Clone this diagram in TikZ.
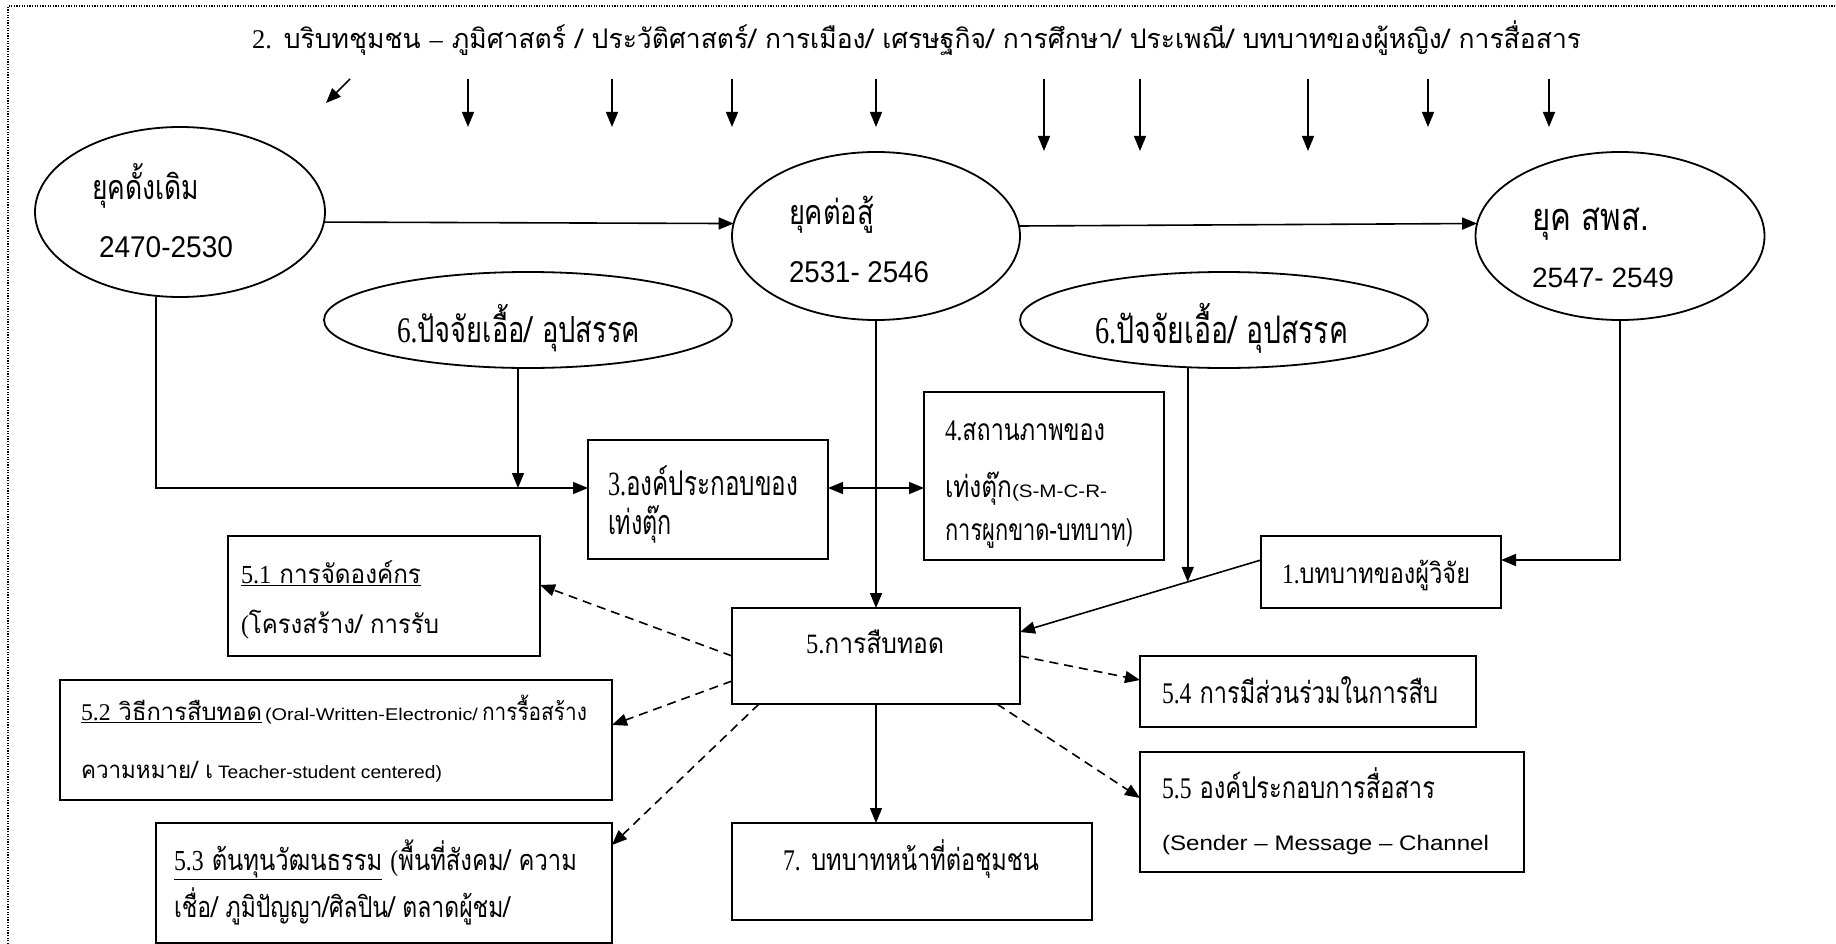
\documentclass[tikz,border=0pt]{standalone}
\usepackage{fontspec}
\usepackage{graphicx}
\setmainfont[Script=Thai]{Loma}
\newfontfamily\serf{Liberation Serif}
\newfontfamily\ari{Liberation Sans}
\usetikzlibrary{arrows.meta,shapes.geometric,calc}

\newcommand\fs[1]{\fontsize{#1pt}{#1pt}\selectfont}
\newcommand\sr[1]{{\serf #1}}
% squeeze a piece of text to a given width, keeping its height
\newcommand\sq[2]{\resizebox{#1pt}{\height}{#2}}
% one line of text, baseline-left at (x,y), squeezed to a given width
\newcommand\putline[5]{\node[txt] (#1) at (#2,#3) {\sq{#4}{#5}};}
% one line built from already squeezed pieces
\newcommand\putraw[4]{\node[txt] (#1) at (#2,#3) {#4};}

\tikzset{
  ln/.style={line width=1.6pt},
  arr/.style={ln, -{Triangle[length=15pt,width=12pt]}},
  arrtwo/.style={ln, {Triangle[length=15pt,width=12pt]}-{Triangle[length=15pt,width=12pt]}},
  darr/.style={arr, dash pattern=on 9pt off 6pt},
  box/.style={draw, rectangle, line width=1.8pt, inner sep=0pt, outer sep=0pt},
  ell/.style={draw, ellipse, line width=1.8pt, inner sep=0pt, outer sep=0pt},
  txt/.style={anchor=base west, inner sep=0pt, outer sep=0pt},
  frame/.style={line width=1.2pt, dash pattern=on 1.3pt off 1.3pt},
}

\begin{document}
\begin{tikzpicture}[x=1pt,y=-1pt]
\useasboundingbox (0,0) rectangle (1836,944);
\fill[white] (0,0) rectangle (1836,944);
\draw[frame] (8,944) -- (8,6) -- (1836,6);

% periods
\node[ell, minimum width=290pt, minimum height=170pt] (E1) at (180,212) {};
\node[ell, minimum width=288pt, minimum height=168pt] (E2) at (876,236) {};
\node[ell, minimum width=289pt, minimum height=168pt] (E3) at (1620,236) {};
% enabling factors / obstacles
\node[ell, minimum width=408pt, minimum height=96pt] (E6L) at (528,320) {};
\node[ell, minimum width=408pt, minimum height=96pt] (E6R) at (1224,320) {};

% boxes
\node[box, minimum width=240pt, minimum height=119pt] (B3) at (708,499.5) {};
\node[box, minimum width=240pt, minimum height=168pt] (B4) at (1044,476) {};
\node[box, minimum width=240pt, minimum height=72pt] (B1) at (1381,572) {};
\node[box, minimum width=288pt, minimum height=96pt] (B5) at (876,656) {};
\node[box, minimum width=360pt, minimum height=97pt] (B7) at (912,871.5) {};
\node[box, minimum width=336pt, minimum height=71pt] (B54) at (1308,691.5) {};
\node[box, minimum width=384pt, minimum height=120pt] (B55) at (1332,812) {};
\node[box, minimum width=312pt, minimum height=120pt] (B51) at (384,596) {};
\node[box, minimum width=552pt, minimum height=120pt] (B52) at (336,740) {};
\node[box, minimum width=456pt, minimum height=120pt] (B53) at (384,883) {};

% texts
\putline{tTitle}{252}{49}{1329}{\fs{27}\sr{2.} บริบทชุมชน \sr{–} ภูมิศาสตร์ / ประวัติศาสตร์/ การเมือง/ เศรษฐกิจ/ การศึกษา/ ประเพณี/ บทบาทของผู้หญิง/ การสื่อสาร}
\putline{tE1a}{92}{200}{107}{\fs{34}ยุคดั้งเดิม}
\putline{tE1b}{99}{257}{134}{\fs{30}\ari 2470-2530}
\putline{tE2a}{789}{225}{85}{\fs{34}ยุคต่อสู้}
\putline{tE2b}{789}{282}{140}{\fs{30}\ari 2531- 2546}
\putline{tE3a}{1532}{230}{117}{\fs{38}ยุค สพส.}
\putline{tE3b}{1532}{287}{142}{\fs{28}\ari 2547- 2549}
\putline{tE6a}{397}{342}{243}{\fs{36}\sr{6.}ปัจจัยเอื้อ/ อุปสรรค}
\putline{tE6b}{1095}{343}{253}{\fs{38}\sr{6.}ปัจจัยเอื้อ/ อุปสรรค}
\putline{tB3a}{608}{495}{190}{\fs{34}\sr{3.}องค์ประกอบของ}
\putline{tB3b}{608}{534}{64}{\fs{34}เท่งตุ๊ก}
\putline{tB4a}{945}{440}{160}{\fs{30}\sr{4.}สถานภาพของ}
\putraw{tB4b}{945}{497}{\sq{67}{\fs{30}เท่งตุ๊ก}\sq{95}{\ari\fs{18}(S-M-C-R-}}
\putline{tB4c}{945}{540}{188}{\fs{30}การผูกขาด-บทบาท)}
\putline{tB1}{1282}{583}{188}{\fs{28}\sr{1.}บทบาทของผู้วิจัย}
\putline{tB5}{806}{653}{138}{\fs{28}\sr{5.}การสืบทอด}
\putline{tB7}{783}{870}{256}{\fs{30}\sr{7.} บทบาทหน้าที่ต่อชุมชน}
\putline{tB54}{1162}{703}{276}{\fs{30}\sr{5.4} การมีส่วนร่วมในการสืบ}
\putline{tB55a}{1162}{798}{273}{\fs{30}\sr{5.5} องค์ประกอบการสื่อสาร}
\putline{tB55b}{1162}{850}{327}{\fs{21}\ari (Sender – Message – Channel}
\putline{tB51a}{241}{583}{180}{\fs{26}\underline{\sr{5.1} การจัดองค์กร}}
\putline{tB51b}{241}{633}{198}{\fs{26}\sr{(}โครงสร้าง/ การรับ}
\putraw{tB52a}{81}{720}{\sq{181}{\fs{24}\underline{\sr{5.2} วิธีการสืบทอด}}\hspace{3pt}\sq{213}{\ari\fs{17}(Oral-Written-Electronic/}\hspace{4pt}\sq{105}{\fs{24}การรื้อสร้าง}}
\putraw{tB52b}{81}{778}{\sq{132}{\fs{24}ความหมาย/ เ}\hspace{5pt}\sq{224}{\ari\fs{18}Teacher-student centered)}}
\putline{tB53a}{174}{870}{403}{\fs{29}\underline{\sr{5.3} ต้นทุนวัฒนธรรม} \sr{(}พื้นที่สังคม/ ความ}
\putline{tB53b}{174}{917}{336}{\fs{29}เชื่อ/ ภูมิปัญญา/ศิลปิน/ ตลาดผู้ชม/}

% arrows under the context line
\foreach \x/\l [count=\i] in {468/127,612/127,732/127,876/127,1044/151,1140/151,1308/151,1428/127,1549/127}{
  \coordinate (ts\i) at (\x,79);
  \coordinate (te\i) at (\x,\l);
  \draw[arr] (ts\i) -- (te\i);
}
\coordinate (ds) at (350,79);
\coordinate (de) at (326,103);
\draw[arr] (ds) -- (de);

% timeline
\draw[arr] (E1.-4.8) -- (E2.175.2);
\draw[arr] (E2.4.8) -- (E3.175.2);

% into the components box
\coordinate (jA) at (518,488);
\draw[arr] ([xshift=-24pt]E1.south) |- ([yshift=11.5pt]B3.west);
\draw[arr] (E6L.south -| jA) -- (jA);
\draw[arrtwo] ([yshift=11.5pt]B3.east) -- ([yshift=-12pt]B4.west);

% into succession
\draw[arr] (E2.south) -- (B5.north);
\draw[arr] (E3.south) |- ([yshift=12pt]B1.east);
\draw[arr] ([yshift=12pt]B1.west) -- ([yshift=24pt]B5.east);
\coordinate (jB) at ($([yshift=12pt]B1.west)!0.304!([yshift=24pt]B5.east)$);
\draw[arr] (E6R.south -| jB) -- (jB);
\draw[arr] (B5.south) -- (B5.south |- B7.north);

% sub-aspects of succession
\draw[darr] (B5.west) -- ([yshift=11pt]B51.east);
\draw[darr] ([yshift=-25pt]B5.west) -- ([yshift=15pt]B52.east);
\draw[darr] ([xshift=-117pt]B5.south) -- ([yshift=38pt]B53.east);
\draw[darr] (B5.east) -- ([yshift=11.5pt]B54.west);
\draw[darr] ([xshift=121pt]B5.south) -- ([yshift=14pt]B55.west);
\end{tikzpicture}
\end{document}
